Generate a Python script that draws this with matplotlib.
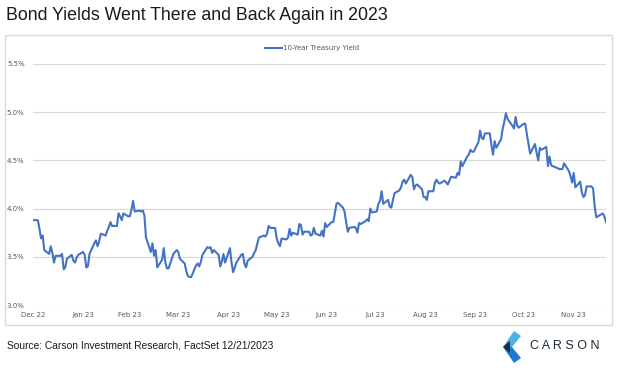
import numpy as np
import pandas as pd
import matplotlib
matplotlib.use("Agg")
import matplotlib.pyplot as plt
import matplotlib.dates as mdates
from matplotlib.patches import Polygon, Rectangle

# 10-year treasury yield (%), one value per weekday, holidays carry the last close
dec22 = [3.88]
jan23 = [3.88, 3.79, 3.69, 3.72, 3.57, 3.53, 3.61, 3.54, 3.44, 3.51, 3.51, 3.53, 3.37, 3.39,
         3.48, 3.52, 3.46, 3.44, 3.49, 3.52, 3.55, 3.52]
feb23 = [3.39, 3.40, 3.53, 3.64, 3.67, 3.61, 3.66, 3.74, 3.72, 3.77, 3.81, 3.86, 3.82, 3.82,
         3.95, 3.92, 3.88, 3.95, 3.92, 3.92]
mar23 = [3.99, 4.08, 3.97, 3.98, 3.97, 3.98, 3.93, 3.70, 3.55, 3.64, 3.51, 3.57, 3.39, 3.47,
         3.59, 3.44, 3.38, 3.38, 3.53, 3.55, 3.57, 3.55, 3.48]
apr23 = [3.43, 3.35, 3.30, 3.29, 3.29, 3.41, 3.43, 3.40, 3.45, 3.52, 3.60, 3.59, 3.60, 3.54,
         3.57, 3.52, 3.40, 3.45, 3.53, 3.44]
may23 = [3.59, 3.44, 3.34, 3.39, 3.44, 3.52, 3.53, 3.43, 3.39, 3.46, 3.50, 3.54, 3.57, 3.64,
         3.70, 3.72, 3.71, 3.74, 3.82, 3.80, 3.80, 3.69, 3.64]
jun23 = [3.61, 3.69, 3.68, 3.70, 3.79, 3.72, 3.75, 3.73, 3.84, 3.83, 3.73, 3.76, 3.76, 3.72,
         3.73, 3.80, 3.74, 3.72, 3.77, 3.71, 3.85, 3.81]
jul23 = [3.86, 3.86, 3.95, 4.05, 4.06, 4.01, 3.97, 3.86, 3.76, 3.80, 3.81, 3.80, 3.75, 3.85,
         3.84, 3.87, 3.89, 3.87, 4.00, 3.96, 3.97]
aug23 = [4.05, 4.08, 4.18, 4.05, 4.09, 4.02, 4.01, 4.09, 4.16, 4.19, 4.22, 4.28, 4.30, 4.26,
         4.35, 4.33, 4.20, 4.24, 4.25, 4.20, 4.12, 4.12, 4.09]
sep23 = [4.18, 4.18, 4.27, 4.30, 4.27, 4.26, 4.29, 4.27, 4.25, 4.29, 4.33, 4.32, 4.37, 4.35,
         4.49, 4.44, 4.54, 4.56, 4.61, 4.59, 4.59]
oct23 = [4.69, 4.81, 4.73, 4.72, 4.78, 4.78, 4.66, 4.56, 4.70, 4.63, 4.72, 4.83, 4.90, 4.99,
         4.93, 4.86, 4.83, 4.95, 4.86, 4.84, 4.88, 4.88]
nov23 = [4.77, 4.67, 4.57, 4.67, 4.58, 4.50, 4.63, 4.61, 4.64, 4.44, 4.54, 4.45, 4.44, 4.42,
         4.41, 4.41, 4.41, 4.47, 4.39, 4.34, 4.27, 4.37]
dec23 = [4.22, 4.28, 4.17, 4.12, 4.14, 4.23, 4.23, 4.21, 4.02, 3.91, 3.92, 3.95, 3.92, 3.86]

yields = dec22 + jan23 + feb23 + mar23 + apr23 + may23 + jun23 + jul23 + aug23 + sep23 + oct23 + nov23 + dec23
dates = pd.bdate_range("2022-12-30", "2023-12-20")

tick_dates = pd.to_datetime(["2022-12-30", "2023-01-30", "2023-02-28", "2023-03-30", "2023-04-30",
                             "2023-05-30", "2023-06-30", "2023-07-30", "2023-08-30", "2023-09-30",
                             "2023-10-30", "2023-11-30"])
y_ticks = [3.0, 3.5, 4.0, 4.5, 5.0, 5.5]

W, H = 624, 372
fig = plt.figure(figsize=(W / 100, H / 100), dpi=100)
fig.patch.set_facecolor("white")


def px(x, y):
    return x / W, 1 - y / H


# outer chart frame
fig.patches.append(Rectangle(px(5, 325), 607 / W, 290 / H, transform=fig.transFigure,
                             fill=False, edgecolor="#d9d9d9", linewidth=1.0))

left, bottom = px(33, 305)
ax = fig.add_axes([left, bottom, (606 - 33) / W, (305 - 64) / H])
ax.plot(dates, yields, color="#4472c4", linewidth=1.5, label="10-Year Treasury Yield")
ax.set_xlim(dates[0], dates[-1])
ax.set_ylim(3.0, 5.5)
ax.set_yticks(y_ticks)
ax.set_yticklabels([f"{v:.1f}%" for v in y_ticks])
ax.set_xticks(tick_dates)
ax.xaxis.set_major_formatter(mdates.DateFormatter("%b %y"))
ax.grid(axis="y", color="#d9d9d9", linewidth=0.9)
ax.set_axisbelow(True)
for s in ax.spines.values():
    s.set_visible(False)
ax.tick_params(length=0, labelsize=5, labelcolor="#595959")
ax.tick_params(axis="y", pad=6)
ax.tick_params(axis="x", pad=5)

# legend at top centre
lx0, ly = px(265, 48)
lx1, _ = px(282, 48)
fig.lines.append(plt.Line2D([lx0, lx1], [ly, ly], transform=fig.transFigure,
                            color="#4472c4", linewidth=1.5))
fig.text(px(283, 48)[0], ly, "10-Year Treasury Yield", fontsize=5, color="#595959",
         va="center", ha="left")

fig.text(px(6, 16)[0], px(6, 16)[1], "Bond Yields Went There and Back Again in 2023",
         fontsize=12.8, family="Liberation Sans", color="#1a1a1a", va="center", ha="left")
fig.text(px(7, 345)[0], px(7, 345)[1], "Source: Carson Investment Research, FactSet 12/21/2023",
         fontsize=7.4, family="Liberation Sans", color="#1a1a1a", va="center", ha="left")

# Carson logo
upper = [(514, 331), (521, 336), (512, 347), (503, 347)]
lower = [(503, 347), (512, 347), (521, 358), (514, 363)]
tip = [(503, 347), (510, 341), (510, 353)]
for pts, col in [(upper, "#4fb0e6"), (lower, "#1f78d1"), (tip, "#1b2b40")]:
    fig.patches.append(Polygon([px(a, b) for a, b in pts], closed=True,
                               transform=fig.transFigure, facecolor=col, edgecolor="none"))
fig.text(px(530, 346)[0], px(530, 346)[1], "C A R S O N", fontsize=9, family="Liberation Sans",
         color="#1c2a3a", va="center", ha="left")

fig.savefig("out.png", dpi=100)
